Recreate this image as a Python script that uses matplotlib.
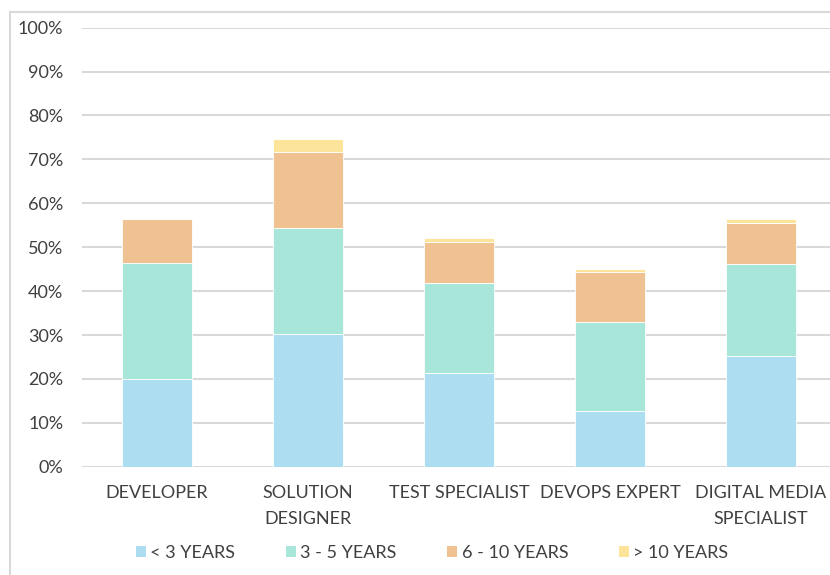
import matplotlib
matplotlib.use("Agg")
import matplotlib.pyplot as plt
from matplotlib.lines import Line2D
from matplotlib.patches import Patch
import numpy as np

plt.rcParams['font.family'] = ['Lato', 'DejaVu Sans']

categories = ["DEVELOPER", "SOLUTION\nDESIGNER", "TEST SPECIALIST", "DEVOPS EXPERT", "DIGITAL MEDIA\nSPECIALIST"]
series_names = ["< 3 YEARS", "3 - 5 YEARS", "6 - 10 YEARS", "> 10 YEARS"]
under_3 = [20.0, 30.3, 21.3, 12.6, 25.2]
three_to_5 = [26.5, 24.1, 20.5, 20.4, 21.0]
six_to_10 = [9.9, 17.2, 9.3, 11.4, 9.4]
over_10 = [0.0, 3.0, 0.9, 0.6, 0.8]
y_ticks = [0, 10, 20, 30, 40, 50, 60, 70, 80, 90, 100]

colors = ["#ADDDF0", "#A8E6DA", "#F0C291", "#FCE49A"]
text_color = "#404040"
grid_color = "#D9D9D9"

W, H = 830, 575
fig = plt.figure(figsize=(W / 100, H / 100), dpi=100)
fig.patch.set_facecolor("white")

# plot area in pixel coordinates (left, bottom, right, top)
left_px, right_px = 81.5, 836.5
top_px, bottom_px = 27.7, 466.7
ax = fig.add_axes([left_px / W, 1 - bottom_px / H, (right_px - left_px) / W, (bottom_px - top_px) / H])

x = np.arange(len(categories))
bottom = np.zeros(len(categories))
for name, vals, c in zip(series_names, [under_3, three_to_5, six_to_10, over_10], colors):
    ax.bar(x, vals, width=0.465, bottom=bottom, color=c, edgecolor="white", linewidth=0.6, zorder=3, label=name)
    bottom += np.array(vals)

ax.set_xlim(-0.5, len(categories) - 0.5)
ax.set_ylim(0, 100)
ax.set_yticks(y_ticks)
ax.set_yticklabels([f"{t}%" for t in y_ticks])
ax.set_xticks(x)
ax.set_xticklabels(categories, linespacing=1.75, va="top")

ax.yaxis.grid(True, color=grid_color, linewidth=1.5, zorder=0)
ax.set_axisbelow(True)
for s in ax.spines.values():
    s.set_visible(False)
ax.tick_params(axis="both", length=0, labelsize=13, labelcolor=text_color)
ax.tick_params(axis="y", pad=13)
ax.tick_params(axis="x", pad=13)

# chart border (top and left edges)
fig.add_artist(Line2D([10 / W, 10 / W], [0, 1 - 12 / H], color="#D9D9D9", linewidth=1.5))
fig.add_artist(Line2D([10 / W, 1], [1 - 12 / H, 1 - 12 / H], color="#D9D9D9", linewidth=1.5))

handles = [Patch(facecolor=c, edgecolor="none") for c in colors]
leg = fig.legend(handles, series_names, loc="center", bbox_to_anchor=(432 / W, 1 - 553 / H),
                 ncol=4, frameon=False, fontsize=13, handlelength=0.55, handleheight=0.55,
                 handletextpad=0.25, columnspacing=2.8, borderaxespad=0, borderpad=0)
for t in leg.get_texts():
    t.set_color(text_color)

fig.savefig("out.png", dpi=100, facecolor="white")
